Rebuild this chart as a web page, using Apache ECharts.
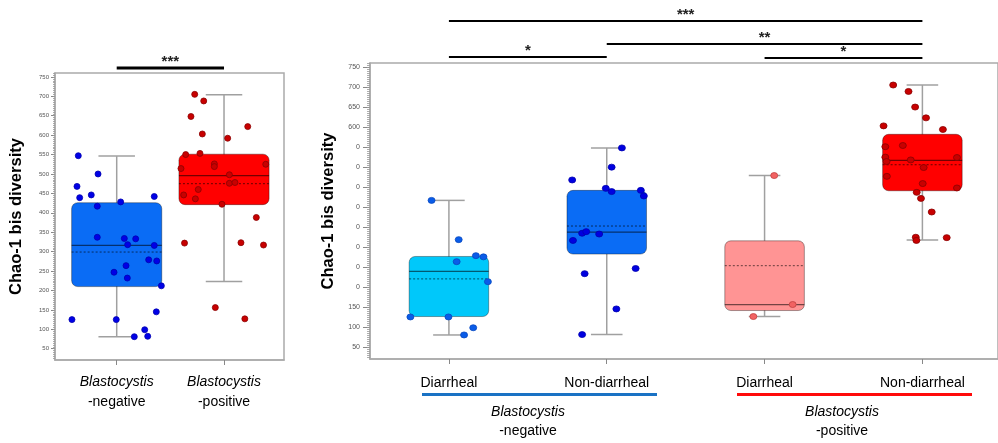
<!DOCTYPE html>
<html>
<head>
<meta charset="utf-8">
<script src="https://cdn.jsdelivr.net/npm/echarts@6/dist/echarts.min.js"></script>
<style>
html, body { margin: 0; padding: 0; background: #fff; }
#main { width: 998px; height: 443px; }
</style>
</head>
<body>
<div id="main"></div>
<script>
// y ticks shared by both panels
var yTicks = [50, 100, 150, 200, 250, 300, 350, 400, 450, 500, 550, 600, 650, 700, 750];
var leftTickLabels = ['50', '100', '150', '200', '250', '300', '350', '400', '450', '500', '550', '600', '650', '700', '750'];
var rightTickLabels = ['50', '100', '150', '0', '0', '0', '0', '0', '0', '0', '0', '600', '650', '700', '750'];
var minorTicks = [];
for (var t = 25; t <= 760; t += 5) minorTicks.push(t);

// left panel: Blastocystis -negative / -positive
var leftGroups = ['-negative', '-positive'];
var leftLow = [81, 223];
var leftQ1 = [210, 421];
var leftMedian = [316, 496];
var leftQ3 = [426, 551];
var leftHigh = [546, 704];
var leftMean = [299, 475];

var leftNegValues = [547, 468, 439, 500, 446, 417, 428, 442, 337, 334, 333, 318, 316, 279, 276, 247, 264, 232, 212, 125, 125, 145, 99, 81, 82];
var leftNegJitter = [-0.358, -0.370, -0.345, -0.174, -0.237, -0.181, 0.037, 0.350, -0.181, 0.071, 0.177, 0.102, 0.350, 0.298, 0.373, -0.025, 0.087, 0.099, 0.416, -0.417, -0.004, 0.369, 0.261, 0.164, 0.289];
var leftPosValues = [705, 688, 648, 603, 592, 622, 550, 553, 514, 526, 519, 525, 498, 476, 478, 446, 436, 460, 422, 388, 322, 323, 317, 156, 127];
var leftPosJitter = [-0.273, -0.189, -0.308, -0.202, 0.034, 0.221, -0.357, -0.224, -0.401, -0.090, -0.090, 0.389, 0.050, 0.050, 0.102, -0.376, -0.267, -0.240, -0.019, 0.301, -0.368, 0.158, 0.368, -0.081, 0.194];

// right panel: diarrheal / non-diarrheal within each group
var rightGroups = ['Diarrheal', 'Non-diarrheal', 'Diarrheal', 'Non-diarrheal'];
var rightLow = [81, 82, 127, 318];
var rightQ1 = [127, 283, 142, 441];
var rightMedian = [240, 338, 157, 517];
var rightQ3 = [277, 442, 316, 582];
var rightHigh = [417, 548, 479, 705];
var rightMean = [221, 353, 254, 506];

var negDiaValues = [417, 319, 264, 279, 276, 214, 126, 126, 99, 81];
var negDiaJitter = [-0.110, 0.062, 0.049, 0.171, 0.219, 0.247, -0.244, -0.003, 0.154, 0.096];
var negNonValues = [548, 500, 447, 439, 442, 428, 335, 339, 333, 247, 234, 146, 82, 468, 317];
var negNonJitter = [0.096, 0.031, -0.006, 0.031, 0.216, 0.235, -0.156, -0.130, -0.048, 0.183, -0.140, 0.061, -0.156, -0.219, -0.214];
var posDiaValues = [479, 157, 127];
var posDiaJitter = [0.061, 0.178, -0.071];
var posNonValues = [705, 689, 650, 623, 603, 594, 551, 554, 525, 514, 518, 524, 499, 477, 459, 448, 437, 422, 388, 325, 317, 324];
var posNonJitter = [-0.185, -0.088, -0.046, 0.023, -0.246, 0.130, -0.235, -0.124, -0.235, -0.227, -0.074, 0.219, 0.008, -0.225, 0.002, 0.219, -0.036, -0.009, 0.059, -0.042, -0.038, 0.154];

var FONT = 'Liberation Sans';

function boxRows(low, q1, med, q3, high, mean) {
	var rows = [];
	for (var i = 0; i < low.length; i++) {
		rows.push([i, low[i], q1[i], med[i], q3[i], high[i], mean[i]]);
	}
	return rows;
}

function pointRows(group, values, jitter) {
	var rows = [];
	for (var i = 0; i < values.length; i++) {
		rows.push([group + jitter[i], values[i]]);
	}
	return rows;
}

function boxRender(boxWidth, capWidth, fills) {
	return function(params, api) {
		var i = api.value(0);
		var x = api.coord([i, api.value(3)])[0];
		var half = api.size([boxWidth, 0])[0] / 2;
		var cap = api.size([capWidth, 0])[0] / 2;
		var yLow = api.coord([i, api.value(1)])[1];
		var yQ1 = api.coord([i, api.value(2)])[1];
		var yMed = api.coord([i, api.value(3)])[1];
		var yQ3 = api.coord([i, api.value(4)])[1];
		var yHigh = api.coord([i, api.value(5)])[1];
		var yMean = api.coord([i, api.value(6)])[1];
		var whisker = { stroke: '#a0a0a0', lineWidth: 1.5 };
		return {
			type: 'group',
			children: [
				{ type: 'line', shape: { x1: x, y1: yLow, x2: x, y2: yHigh }, style: whisker },
				{ type: 'line', shape: { x1: x - cap, y1: yLow, x2: x + cap, y2: yLow }, style: whisker },
				{ type: 'line', shape: { x1: x - cap, y1: yHigh, x2: x + cap, y2: yHigh }, style: whisker },
				{ type: 'rect', shape: { x: x - half, y: yQ3, width: half * 2, height: yQ1 - yQ3, r: 6 },
					style: { fill: fills[params.dataIndex], stroke: 'rgba(0,0,0,0.35)', lineWidth: 1 } },
				{ type: 'line', shape: { x1: x - half, y1: yMed, x2: x + half, y2: yMed },
					style: { stroke: 'rgba(0,0,0,0.55)', lineWidth: 1.2 } },
				{ type: 'line', shape: { x1: x - half, y1: yMean, x2: x + half, y2: yMean },
					style: { stroke: 'rgba(0,0,0,0.6)', lineWidth: 1, lineDash: [2, 2] } }
			]
		};
	};
}

function yMain(gridIndex, labels, tickLen, fontSize, margin, nameGap) {
	return {
		type: 'value',
		gridIndex: gridIndex,
		position: 'left',
		min: 21,
		max: 760,
		name: 'Chao-1 bis diversity',
		nameLocation: 'middle',
		nameGap: nameGap,
		nameTextStyle: { fontSize: 16.5, fontWeight: 'bold', color: '#000', fontFamily: FONT },
		axisLine: { show: true, onZero: false, lineStyle: { color: '#aaa', width: 1.5 } },
		axisTick: { show: true, customValues: yTicks, length: tickLen, lineStyle: { color: '#888' } },
		axisLabel: {
			customValues: yTicks,
			formatter: function(v) { return labels[yTicks.indexOf(v)]; },
			fontSize: fontSize,
			color: '#555',
			margin: margin,
			fontFamily: FONT
		},
		splitLine: { show: false }
	};
}

function yMinor(gridIndex, tickLen) {
	return {
		type: 'value',
		gridIndex: gridIndex,
		position: 'left',
		min: 21,
		max: 760,
		axisLine: { show: false, onZero: false },
		axisTick: { show: true, customValues: minorTicks, length: tickLen, lineStyle: { color: '#999', width: 0.8 } },
		axisLabel: { show: false },
		splitLine: { show: false }
	};
}

function dots(xIdx, yIdx, data, color, border, size) {
	return {
		type: 'scatter',
		xAxisIndex: xIdx,
		yAxisIndex: yIdx,
		data: data,
		symbol: 'circle',
		symbolSize: size,
		z: 5,
		itemStyle: { color: color, borderColor: border, borderWidth: 0.8, opacity: 1 }
	};
}

var chart = echarts.init(document.getElementById('main'));

var option = {
	backgroundColor: '#fff',
	animation: false,
	textStyle: { fontFamily: FONT },
	grid: [
		{ left: 55, top: 73, width: 229, height: 287, show: true, borderColor: '#aaa', borderWidth: 1.5 },
		{ left: 370, top: 63, width: 632, height: 296, show: true, borderColor: '#aaa', borderWidth: 1.5 }
	],
	xAxis: [{
		type: 'value',
		gridIndex: 0,
		min: -0.575,
		max: 1.559,
		axisLine: { show: true, onZero: false, lineStyle: { color: '#aaa', width: 1.5 } },
		axisTick: { show: true, customValues: [0, 1], length: 5, lineStyle: { color: '#888' } },
		axisLabel: {
			customValues: [0, 1],
			margin: 12,
			formatter: function(v) { return '{i|Blastocystis}\n{n|' + leftGroups[Math.round(v)] + '}'; },
			rich: {
				i: { fontStyle: 'italic', fontSize: 14, lineHeight: 20, color: '#000', fontFamily: FONT },
				n: { fontSize: 14, lineHeight: 20, color: '#000', fontFamily: FONT }
			}
		},
		splitLine: { show: false },
		minorSplitLine: { show: false }
	}, {
		type: 'value',
		gridIndex: 1,
		min: -0.5,
		max: 3.479,
		axisLine: { show: true, onZero: false, lineStyle: { color: '#aaa', width: 1.5 } },
		axisTick: { show: true, customValues: [0, 1, 2, 3], length: 5, lineStyle: { color: '#888' } },
		axisLabel: {
			customValues: [0, 1, 2, 3],
			margin: 17,
			fontSize: 14,
			color: '#000',
			fontFamily: FONT,
			formatter: function(v) { return rightGroups[Math.round(v)]; }
		},
		splitLine: { show: false },
		minorSplitLine: { show: false }
	}],
	yAxis: [
		yMain(0, leftTickLabels, 4, 6, 6, 30),
		yMinor(0, 2),
		yMain(1, rightTickLabels, 7, 7, 10, 27),
		yMinor(1, 3)
	],
	series: [{
		type: 'custom',
		xAxisIndex: 0,
		yAxisIndex: 0,
		renderItem: boxRender(0.84, 0.34, ['#0a6cf5', '#ff0000']),
		encode: { x: 0, y: [1, 5] },
		data: boxRows(leftLow, leftQ1, leftMedian, leftQ3, leftHigh, leftMean),
		z: 2
	},
		dots(0, 0, pointRows(0, leftNegValues, leftNegJitter), '#0000e6', '#0000b0', 6),
		dots(0, 0, pointRows(1, leftPosValues, leftPosJitter), '#c80000', '#8a0000', 6),
	{
		type: 'custom',
		xAxisIndex: 1,
		yAxisIndex: 2,
		renderItem: boxRender(0.504, 0.2, ['#00c8fa', '#0a6cf5', '#ff9494', '#ff0000']),
		encode: { x: 0, y: [1, 5] },
		data: boxRows(rightLow, rightQ1, rightMedian, rightQ3, rightHigh, rightMean),
		z: 2
	},
		dots(1, 2, pointRows(0, negDiaValues, negDiaJitter), '#0a5ce8', '#0848c0', [7, 6]),
		dots(1, 2, pointRows(1, negNonValues, negNonJitter), '#0000e0', '#0000b0', [7, 6]),
		dots(1, 2, pointRows(2, posDiaValues, posDiaJitter), '#f26262', '#c04040', [7, 6]),
		dots(1, 2, pointRows(3, posNonValues, posNonJitter), '#c80000', '#8a0000', [7, 6])
	]
};
chart.setOption(option);

// significance brackets, placed from the group positions on the axes
var brackets = [
	{ axis: 0, from: 0, to: 1, y: 68, label: '***', width: 3 },
	{ axis: 1, from: 0, to: 3, y: 21, label: '***', width: 2 },
	{ axis: 1, from: 1, to: 3, y: 44, label: '**', width: 2 },
	{ axis: 1, from: 0, to: 1, y: 57, label: '*', width: 2 },
	{ axis: 1, from: 2, to: 3, y: 58, label: '*', width: 2 }
];

var graphics = [];
brackets.forEach(function(b) {
	var x1 = chart.convertToPixel({ xAxisIndex: b.axis }, b.from);
	var x2 = chart.convertToPixel({ xAxisIndex: b.axis }, b.to);
	graphics.push({
		type: 'line',
		shape: { x1: x1, y1: b.y, x2: x2, y2: b.y },
		style: { stroke: '#000', lineWidth: b.width }
	});
	graphics.push({
		type: 'text',
		x: (x1 + x2) / 2,
		y: b.y + 1,
		style: { text: b.label, font: 'bold 15px ' + FONT, fill: '#222', align: 'center', verticalAlign: 'bottom' }
	});
});

// group underlines and group names under the right panel
graphics.push({ type: 'rect', shape: { x: 422, y: 393, width: 235, height: 3 }, style: { fill: '#1a72c4' } });
graphics.push({ type: 'rect', shape: { x: 737, y: 393, width: 235, height: 3 }, style: { fill: '#ff0a0a' } });
[['-negative', 528], ['-positive', 842]].forEach(function(g) {
	graphics.push({
		type: 'text', x: g[1], y: 412,
		style: { text: 'Blastocystis', font: 'italic 14px ' + FONT, fill: '#000', align: 'center', verticalAlign: 'middle' }
	});
	graphics.push({
		type: 'text', x: g[1], y: 431,
		style: { text: g[0], font: '14px ' + FONT, fill: '#000', align: 'center', verticalAlign: 'middle' }
	});
});

chart.setOption({ graphic: graphics });
</script>
</body>
</html>
